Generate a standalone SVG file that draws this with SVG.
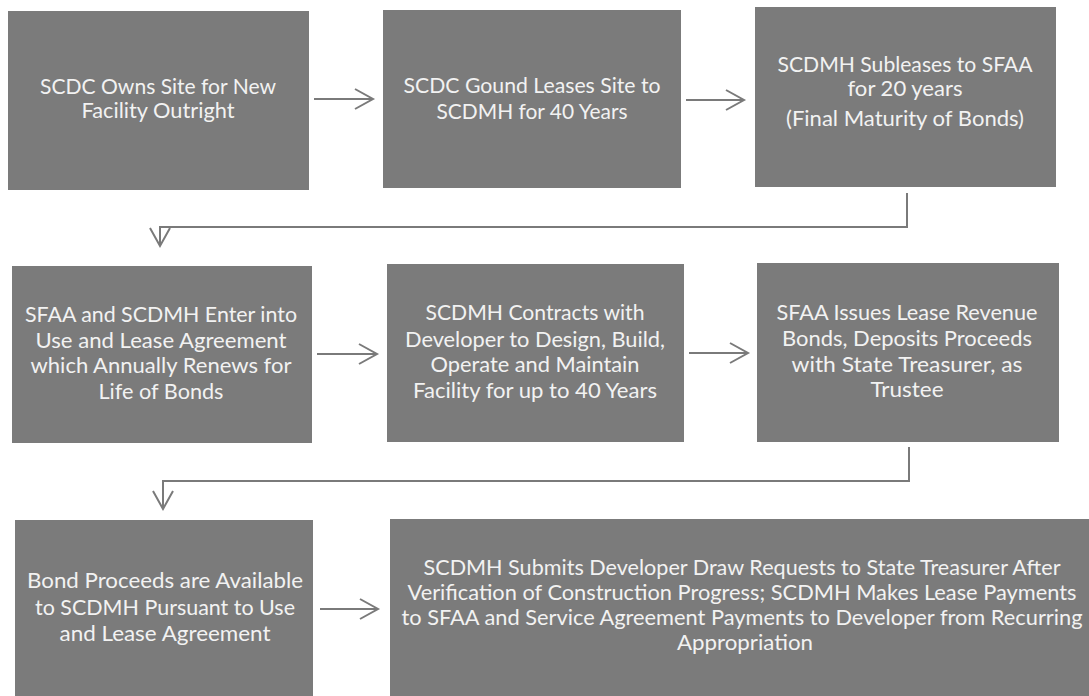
<svg xmlns="http://www.w3.org/2000/svg" width="1089" height="696" viewBox="0 0 1089 696">
  <defs>
    <marker id="chev" markerUnits="userSpaceOnUse" markerWidth="24" markerHeight="24" viewBox="-20 -12 24 24" refX="0" refY="0" orient="auto">
      <path d="M-18,-10 L0,0 L-18,10" fill="none" stroke="#7a7a7a" stroke-width="2"/>
    </marker>
  </defs>
  <style>
    .box { fill: #7b7b7b; }
    .lbl { font-family: Lato, "Open Sans", "Liberation Sans", sans-serif; font-size: 21.5px; fill: #f2f2f2; text-anchor: middle; }
    .conn { fill: none; stroke: #7a7a7a; stroke-width: 2; marker-end: url(#chev); }
  </style>
  <rect width="1089" height="696" fill="#ffffff"/>

  <g id="connectors">
    <line class="conn" x1="314" y1="99" x2="373" y2="99"/>
    <line class="conn" x1="686" y1="100" x2="744" y2="100"/>
    <polyline class="conn" points="907,193 907,227 160,227 160,246"/>
    <line class="conn" x1="317" y1="354" x2="377" y2="354"/>
    <line class="conn" x1="689" y1="353" x2="748" y2="353"/>
    <polyline class="conn" points="909,447 909,481 163,481 163,509"/>
    <line class="conn" x1="320" y1="609" x2="378" y2="609"/>
  </g>

  <g id="n1">
    <rect class="box" x="8" y="11" width="301" height="179"/>
    <text class="lbl" x="158" y="94" textLength="236" lengthAdjust="spacingAndGlyphs">SCDC Owns Site for New</text>
    <text class="lbl" x="158" y="118" textLength="153" lengthAdjust="spacingAndGlyphs">Facility Outright</text>
  </g>
  <g id="n2">
    <rect class="box" x="383" y="10" width="298" height="178"/>
    <text class="lbl" x="532" y="93" textLength="257" lengthAdjust="spacingAndGlyphs">SCDC Gound Leases Site to</text>
    <text class="lbl" x="532" y="119" textLength="191" lengthAdjust="spacingAndGlyphs">SCDMH for 40 Years</text>
  </g>
  <g id="n3">
    <rect class="box" x="755" y="7" width="301" height="180"/>
    <text class="lbl" x="905" y="72" textLength="255" lengthAdjust="spacingAndGlyphs">SCDMH Subleases to SFAA</text>
    <text class="lbl" x="905" y="96" textLength="115" lengthAdjust="spacingAndGlyphs">for 20 years</text>
    <text class="lbl" x="905" y="126" textLength="238" lengthAdjust="spacingAndGlyphs">(Final Maturity of Bonds)</text>
  </g>
  <g id="n4">
    <rect class="box" x="12" y="266" width="300" height="177"/>
    <text class="lbl" x="161" y="322" textLength="272" lengthAdjust="spacingAndGlyphs">SFAA and SCDMH Enter into</text>
    <text class="lbl" x="161" y="348" textLength="251" lengthAdjust="spacingAndGlyphs">Use and Lease Agreement</text>
    <text class="lbl" x="161" y="373" textLength="261" lengthAdjust="spacingAndGlyphs">which Annually Renews for</text>
    <text class="lbl" x="161" y="399" textLength="125" lengthAdjust="spacingAndGlyphs">Life of Bonds</text>
  </g>
  <g id="n5">
    <rect class="box" x="387" y="264" width="297" height="178"/>
    <text class="lbl" x="535" y="320" textLength="219" lengthAdjust="spacingAndGlyphs">SCDMH Contracts with</text>
    <text class="lbl" x="535" y="347" textLength="260" lengthAdjust="spacingAndGlyphs">Developer to Design, Build,</text>
    <text class="lbl" x="535" y="372" textLength="209" lengthAdjust="spacingAndGlyphs">Operate and Maintain</text>
    <text class="lbl" x="535" y="398" textLength="244" lengthAdjust="spacingAndGlyphs">Facility for up to 40 Years</text>
  </g>
  <g id="n6">
    <rect class="box" x="757" y="263" width="302" height="179"/>
    <text class="lbl" x="907" y="320" textLength="261" lengthAdjust="spacingAndGlyphs">SFAA Issues Lease Revenue</text>
    <text class="lbl" x="907" y="346" textLength="250" lengthAdjust="spacingAndGlyphs">Bonds, Deposits Proceeds</text>
    <text class="lbl" x="907" y="372" textLength="231" lengthAdjust="spacingAndGlyphs">with State Treasurer, as</text>
    <text class="lbl" x="907" y="397" textLength="73" lengthAdjust="spacingAndGlyphs">Trustee</text>
  </g>
  <g id="n7">
    <rect class="box" x="15" y="520" width="298" height="180"/>
    <text class="lbl" x="165" y="588" textLength="276" lengthAdjust="spacingAndGlyphs">Bond Proceeds are Available</text>
    <text class="lbl" x="165" y="615" textLength="260" lengthAdjust="spacingAndGlyphs">to SCDMH Pursuant to Use</text>
    <text class="lbl" x="165" y="641" textLength="211" lengthAdjust="spacingAndGlyphs">and Lease Agreement</text>
  </g>
  <g id="n8">
    <rect class="box" x="390" y="519" width="710" height="181"/>
    <text class="lbl" x="742" y="575" textLength="637" lengthAdjust="spacingAndGlyphs">SCDMH Submits Developer Draw Requests to State Treasurer After</text>
    <text class="lbl" x="742" y="600" textLength="669" lengthAdjust="spacingAndGlyphs">Verification of Construction Progress; SCDMH Makes Lease Payments</text>
    <text class="lbl" x="742" y="625" textLength="681" lengthAdjust="spacingAndGlyphs">to SFAA and Service Agreement Payments to Developer from Recurring</text>
    <text class="lbl" x="745" y="650" textLength="136" lengthAdjust="spacingAndGlyphs">Appropriation</text>
  </g>
</svg>
